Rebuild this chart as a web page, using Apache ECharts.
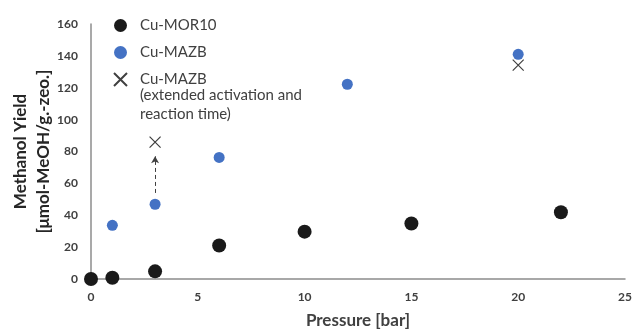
<!DOCTYPE html>
<html><head><meta charset="utf-8">
<script src="https://cdn.jsdelivr.net/npm/echarts@6/dist/echarts.min.js"></script>
<style>html,body{margin:0;padding:0;background:#fff}#c{width:634px;height:330px}</style>
</head><body><div id="c"></div>
<script>
const mor10X = [0, 1, 3, 6, 10, 15, 22];
const mor10Y = [0, 0.8, 4.8, 21, 29.7, 34.8, 41.9];
const mazbX = [1, 3, 6, 12, 20];
const mazbY = [33.7, 46.9, 76.3, 122.2, 141];
const extX = [3, 20];
const extY = [85.9, 134.2];
const arrowFrom = [3, 54];
const arrowTo = [3, 77];
const xTicks = [0, 5, 10, 15, 20, 25];
const yTicks = [0, 20, 40, 60, 80, 100, 120, 140, 160];

const pair = (xs, ys) => xs.map((x, i) => [x, ys[i]]);
const FONT = 'Lato';
const chart = echarts.init(document.getElementById('c'));
chart.setOption({
  animation: false,
  textStyle: { fontFamily: FONT },
  grid: { left: 91, right: 9, top: 24, bottom: 51, containLabel: false, outerBoundsMode: 'none' },
  legend: {
    orient: 'vertical', left: 108, top: 13, itemGap: 12,
    itemWidth: 13, itemHeight: 13,
    textStyle: { fontFamily: FONT, fontSize: 15, color: '#404040', padding: [0, 0, 0, 8] },
    data: ['Cu-MOR10', 'Cu-MAZB', 'Cu-MAZB ']
  },
  graphic: [{
    type: 'text', left: 140, top: 86,
    style: { text: '(extended activation and\nreaction time)', font: '15px Lato', fill: '#404040', lineHeight: 19 }
  }],
  xAxis: {
    type: 'value', min: xTicks[0], max: xTicks[xTicks.length - 1], interval: 5,
    name: 'Pressure [bar]', nameLocation: 'middle', nameGap: 33, nameMoveOverlap: false,
    nameTextStyle: { fontSize: 17, fontWeight: 'bold', color: '#404040', fontFamily: FONT },
    axisLine: { lineStyle: { color: '#8c8c8c', width: 1.5 } },
    axisTick: { show: false }, splitLine: { show: false },
    axisLabel: { margin: 12, fontSize: 12, fontWeight: 'bold', color: '#404040', fontFamily: FONT }
  },
  yAxis: {
    type: 'value', min: yTicks[0], max: yTicks[yTicks.length - 1], interval: 20,
    name: 'Methanol Yield\n[μmol-MeOH/g.-zeo.]', nameLocation: 'middle', nameGap: 36, nameMoveOverlap: false,
    nameTextStyle: { fontSize: 17, fontWeight: 'bold', color: '#262626', fontFamily: FONT, lineHeight: 23 },
    axisLine: { show: true, lineStyle: { color: '#8c8c8c', width: 1.5 } },
    axisTick: { show: false }, splitLine: { show: false },
    axisLabel: { margin: 13, fontSize: 12, fontWeight: 'bold', color: '#404040', fontFamily: FONT }
  },
  series: [
    { name: 'Cu-MOR10', type: 'scatter', symbol: 'circle', symbolSize: 14,
      itemStyle: { color: '#1a1a1a', opacity: 1 }, data: pair(mor10X, mor10Y) },
    { name: 'Cu-MAZB', type: 'scatter', symbol: 'circle', symbolSize: 11,
      itemStyle: { color: '#4472c4', opacity: 1 }, data: pair(mazbX, mazbY),
      markLine: {
        silent: true, symbol: ['none', 'arrow'], symbolSize: [6, 7],
        label: { show: false },
        lineStyle: { type: [4, 3], color: '#404040', width: 1 },
        data: [[{ coord: arrowFrom }, { coord: arrowTo }]]
      } },
    { name: 'Cu-MAZB ', type: 'scatter', symbol: 'path://M0,0L10,10M10,0L0,10', symbolSize: 11,
      itemStyle: { color: 'transparent', borderColor: '#404040', borderWidth: 1.2, opacity: 1 },
      data: pair(extX, extY) }
  ]
});
</script></body></html>
